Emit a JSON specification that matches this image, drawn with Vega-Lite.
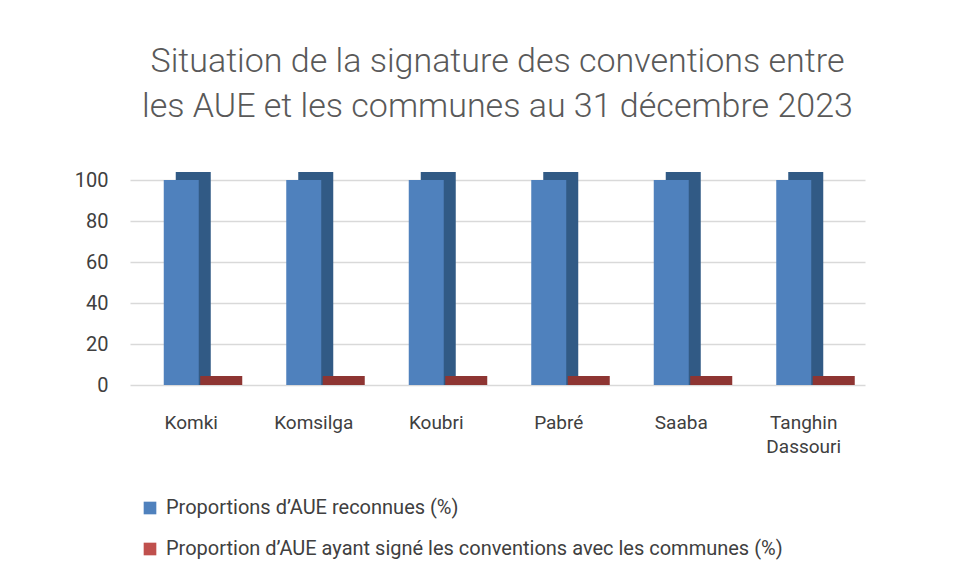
{
  "$schema": "https://vega.github.io/schema/vega-lite/v6.json",
  "width": 735,
  "height": 205,
  "autosize": {"type": "none"},
  "padding": {"left": 130, "top": 180, "right": 92, "bottom": 196},
  "background": "white",
  "title": {
    "text": ["Situation de la signature des conventions entre", "les AUE et les communes au 31 décembre 2023"],
    "font": "Roboto, sans-serif",
    "fontSize": 34,
    "fontWeight": 300,
    "color": "#595959",
    "lineHeight": 45,
    "anchor": "middle",
    "offset": 46
  },
  "config": {
    "view": {"stroke": null},
    "font": "Roboto, sans-serif"
  },
  "data": {
    "values": [
      {"commune": "Komki", "serie": "Proportions d’AUE reconnues (%)", "valeur": 100},
      {"commune": "Komsilga", "serie": "Proportions d’AUE reconnues (%)", "valeur": 100},
      {"commune": "Koubri", "serie": "Proportions d’AUE reconnues (%)", "valeur": 100},
      {"commune": "Pabré", "serie": "Proportions d’AUE reconnues (%)", "valeur": 100},
      {"commune": "Saaba", "serie": "Proportions d’AUE reconnues (%)", "valeur": 100},
      {"commune": "Tanghin Dassouri", "serie": "Proportions d’AUE reconnues (%)", "valeur": 100},
      {"commune": "Komki", "serie": "Proportion d’AUE ayant signé les conventions avec les communes (%)", "valeur": 0},
      {"commune": "Komsilga", "serie": "Proportion d’AUE ayant signé les conventions avec les communes (%)", "valeur": 0},
      {"commune": "Koubri", "serie": "Proportion d’AUE ayant signé les conventions avec les communes (%)", "valeur": 0},
      {"commune": "Pabré", "serie": "Proportion d’AUE ayant signé les conventions avec les communes (%)", "valeur": 0},
      {"commune": "Saaba", "serie": "Proportion d’AUE ayant signé les conventions avec les communes (%)", "valeur": 0},
      {"commune": "Tanghin Dassouri", "serie": "Proportion d’AUE ayant signé les conventions avec les communes (%)", "valeur": 0}
    ]
  },
  "encoding": {
    "x": {
      "field": "commune",
      "type": "nominal",
      "sort": null,
      "scale": {"paddingInner": 0, "paddingOuter": 0},
      "axis": {
        "title": null,
        "labelAngle": 0,
        "domain": false,
        "ticks": false,
        "labelFontSize": 19,
        "labelColor": "#404040",
        "labelPadding": 28,
        "labelLineHeight": 24,
        "labelExpr": "datum.value == 'Tanghin Dassouri' ? ['Tanghin', 'Dassouri'] : datum.value"
      }
    },
    "y": {
      "field": "valeur",
      "type": "quantitative",
      "stack": null,
      "scale": {"domain": [0, 100], "nice": false},
      "axis": {
        "title": null,
        "values": [0, 20, 40, 60, 80, 100],
        "domain": false,
        "ticks": false,
        "labelFontSize": 20,
        "labelColor": "#404040",
        "labelPadding": 22,
        "gridColor": "#d9d9d9",
        "gridWidth": 1.5
      }
    }
  },
  "layer": [
    {
      "transform": [{"filter": "datum.valeur > 0"}],
      "mark": {"type": "bar", "width": 35, "xOffset": 2, "yOffset": -8, "y2Offset": -8, "color": "#315a85"},
      "encoding": {}
    },
    {
      "mark": {"type": "bar", "width": 35, "xOffset": -10},
      "encoding": {
        "color": {
          "field": "serie",
          "type": "nominal",
          "sort": null,
          "scale": {
            "domain": ["Proportions d’AUE reconnues (%)", "Proportion d’AUE ayant signé les conventions avec les communes (%)"],
            "range": ["#4f81bd", "#c0504d"]
          },
          "legend": {
            "title": null,
            "orient": "none",
            "legendX": 10,
            "legendY": 318,
            "direction": "vertical",
            "symbolType": "square",
            "symbolSize": 160,
            "symbolStrokeWidth": 0,
            "labelFontSize": 20,
            "labelColor": "#404040",
            "labelLimit": 800,
            "rowPadding": 21,
            "labelOffset": 6
          }
        }
      }
    },
    {
      "transform": [{"filter": "datum.valeur == 0"}],
      "mark": {"type": "bar", "width": 42, "xOffset": 30, "yOffset": -9, "y2Offset": 0, "color": "#8e3532"},
      "encoding": {
        "y2": {"datum": 0}
      }
    }
  ]
}
